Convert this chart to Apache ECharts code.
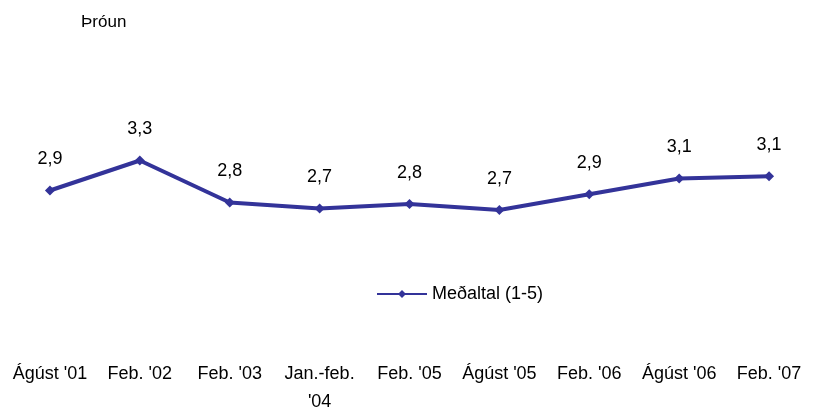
<!DOCTYPE html>
<html>
<head>
<meta charset="utf-8">
<script src="https://cdn.jsdelivr.net/npm/echarts@6/dist/echarts.min.js"></script>
<style>
  html, body { margin: 0; padding: 0; background: #fff; }
  #chart { width: 813px; height: 409px; }
</style>
</head>
<body>
<div id="chart"></div>
<script>
// flokkar á x-ás
const categories = ["Ágúst '01", "Feb. '02", "Feb. '03", "Jan.-feb.\n'04", "Feb. '05",
	"Ágúst '05", "Feb. '06", "Ágúst '06", "Feb. '07"];
// meðaltal (1-5), lesið af myndinni
const medaltal = [2.94, 3.34, 2.78, 2.70, 2.76, 2.68, 2.89, 3.10, 3.13];
const seriesName = 'Meðaltal (1-5)';
const titleText = 'Þróun';

const font = "'Liberation Sans', Arial, sans-serif";
const color = '#333399';

var myChart = echarts.init(document.getElementById('chart'));
let option = {
	animation: false,
	title: {
		text: titleText,
		left: 76,
		top: 9,
		textStyle: {
			fontFamily: font,
			fontSize: 17,
			fontWeight: 'normal',
			color: '#000'
		}
	},
	legend: {
		data: [seriesName],
		left: 371,
		top: 280,
		itemWidth: 50,
		itemHeight: 10,
		textStyle: {
			fontFamily: font,
			fontSize: 18,
			color: '#000'
		}
	},
	grid: {
		left: 5,
		top: 111,
		width: 809,
		height: 225,
		containLabel: false,
		outerBoundsMode: 'none'
	},
	xAxis: {
		type: 'category',
		data: categories,
		boundaryGap: true,
		axisLine: { show: false },
		axisTick: { show: false },
		axisLabel: {
			interval: 0,
			margin: 24,
			fontFamily: font,
			fontSize: 18,
			lineHeight: 28,
			color: '#000'
		}
	},
	yAxis: {
		type: 'value',
		min: 1,
		max: 4,
		show: false,
		splitLine: { show: false }
	},
	series: [{
		name: seriesName,
		type: 'line',
		data: medaltal,
		symbol: 'diamond',
		symbolSize: 10,
		color: color,
		lineStyle: { color: color, width: 4 },
		itemStyle: { color: color },
		label: {
			show: true,
			position: 'top',
			distance: 17,
			fontFamily: font,
			fontSize: 18,
			color: '#000',
			formatter: function(p) {
				return p.value.toFixed(1).replace('.', ',');
			}
		}
	}]
};
myChart.setOption(option);
</script>
</body>
</html>
